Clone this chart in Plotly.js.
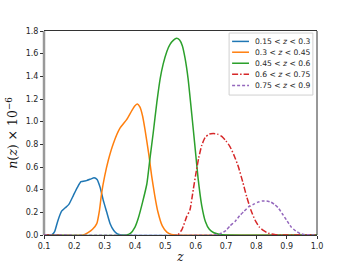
<!DOCTYPE html>
<html>
<head>
<meta charset="utf-8">
<script src="https://cdn.plot.ly/plotly-3.0.1.min.js"></script>
<style>html,body{margin:0;padding:0;background:#fff;}#chart{width:352px;height:264px;}</style>
</head>
<body>
<div id="chart"></div>
<script>
const seriesNames = ["0.15 < <i>z</i> < 0.3", "0.3 < <i>z</i> < 0.45", "0.45 < <i>z</i> < 0.6", "0.6 < <i>z</i> < 0.75", "0.75 < <i>z</i> < 0.9"];

const z1 = [0.1, 0.125, 0.135, 0.145, 0.158, 0.17, 0.182, 0.197, 0.21, 0.222, 0.24, 0.255, 0.265, 0.275, 0.285, 0.295, 0.307, 0.318, 0.33, 0.342, 0.355, 1.0];
const n1 = [0, 0, 0.03, 0.12, 0.21, 0.24, 0.27, 0.35, 0.42, 0.47, 0.48, 0.495, 0.505, 0.49, 0.42, 0.31, 0.2, 0.1, 0.04, 0.01, 0, 0];

const z2 = [0.1, 0.23, 0.245, 0.26, 0.274, 0.283, 0.29, 0.3, 0.312, 0.329, 0.35, 0.373, 0.39, 0.4, 0.408, 0.416, 0.425, 0.433, 0.445, 0.455, 0.465, 0.475, 0.49, 0.505, 0.52, 0.535, 1.0];
const n2 = [0, 0, 0.02, 0.05, 0.1, 0.22, 0.37, 0.52, 0.66, 0.81, 0.94, 1.02, 1.1, 1.14, 1.155, 1.13, 1.05, 0.93, 0.72, 0.52, 0.35, 0.21, 0.08, 0.025, 0.005, 0, 0];

const z3 = [0.1, 0.37, 0.385, 0.4, 0.411, 0.425, 0.439, 0.45, 0.46, 0.472, 0.483, 0.493, 0.505, 0.515, 0.527, 0.537, 0.547, 0.556, 0.565, 0.575, 0.587, 0.597, 0.608, 0.62, 0.632, 0.645, 0.66, 0.68, 0.7, 1.0];
const n3 = [0, 0, 0.015, 0.07, 0.15, 0.29, 0.45, 0.69, 0.9, 1.17, 1.38, 1.51, 1.62, 1.68, 1.72, 1.735, 1.72, 1.67, 1.56, 1.38, 1.07, 0.8, 0.5, 0.26, 0.12, 0.05, 0.02, 0.005, 0, 0];

const z4 = [0.1, 0.54, 0.555, 0.57, 0.581, 0.592, 0.6, 0.61, 0.62, 0.631, 0.645, 0.658, 0.672, 0.686, 0.7, 0.713, 0.727, 0.741, 0.755, 0.768, 0.782, 0.796, 0.81, 0.823, 0.84, 0.86, 0.88, 1.0];
const n4 = [0, 0, 0.05, 0.16, 0.22, 0.4, 0.53, 0.68, 0.79, 0.86, 0.89, 0.895, 0.89, 0.87, 0.83, 0.78, 0.7, 0.6, 0.47, 0.34, 0.22, 0.13, 0.07, 0.04, 0.015, 0.005, 0, 0];

const z5 = [0.1, 0.66, 0.68, 0.7, 0.713, 0.73, 0.745, 0.76, 0.775, 0.79, 0.805, 0.82, 0.834, 0.848, 0.86, 0.872, 0.885, 0.9, 0.915, 0.93, 0.945, 0.96, 0.98, 1.0];
const n5 = [0, 0, 0.01, 0.04, 0.08, 0.12, 0.17, 0.21, 0.25, 0.27, 0.29, 0.30, 0.30, 0.29, 0.27, 0.24, 0.19, 0.13, 0.07, 0.035, 0.012, 0.003, 0, 0];

const xTicks = [0.1, 0.2, 0.3, 0.4, 0.5, 0.6, 0.7, 0.8, 0.9, 1.0];
const yTicks = [0.0, 0.2, 0.4, 0.6, 0.8, 1.0, 1.2, 1.4, 1.6, 1.8];

const colors = ["#1f77b4", "#ff7f0e", "#2ca02c", "#d62728", "#9467bd"];
const dashes = ["solid", "solid", "solid", "6px,2px,1.5px,2px", "3px,2px"];
const zs = [z1, z2, z3, z4, z5];
const ns = [n1, n2, n3, n4, n5];

const traces = zs.map((z, i) => ({
  x: z, y: ns[i], type: "scatter", mode: "lines", name: seriesNames[i],
  line: {color: colors[i], width: 1.5, dash: dashes[i], shape: "spline", smoothing: 0.5}
}));

// compact legend (matplotlib-like), placed in paper coordinates
const legRows = [0.949, 0.896, 0.842, 0.788, 0.733];
const shapes = [
  {type: "line", xref: "paper", yref: "paper", x0: 0, x1: 0, y0: 0, y1: 1, line: {color: "#999", width: 2.5}, layer: "below"},
  {type: "line", xref: "paper", yref: "paper", x0: 1, x1: 1, y0: 0, y1: 1, line: {color: "#333", width: 1}},
  {type: "rect", xref: "paper", yref: "paper", x0: 0.678, x1: 0.985, y0: 0.686, y1: 0.99,
   line: {color: "#d0d0d0", width: 1}, fillcolor: "rgba(255,255,255,0.9)"}
];
const annotations = [];
seriesNames.forEach((name, i) => {
  shapes.push({type: "line", xref: "paper", yref: "paper", x0: 0.689, x1: 0.751, y0: legRows[i], y1: legRows[i],
    line: {color: colors[i], width: 1.5, dash: dashes[i]}});
  annotations.push({xref: "paper", yref: "paper", x: 0.766, y: legRows[i], xanchor: "left", yanchor: "middle",
    text: name, showarrow: false, font: {family: "DejaVu Sans", size: 7.6, color: "#262626"}});
});

const layout = {
  width: 352, height: 264,
  margin: {l: 44, r: 35, t: 31, b: 29},
  paper_bgcolor: "#fff", plot_bgcolor: "#fff",
  font: {family: "DejaVu Sans", size: 8, color: "#262626"},
  showlegend: false,
  xaxis: {range: [0.1, 1.0], tickvals: xTicks, ticktext: xTicks.map(v => v.toFixed(1)),
    showgrid: false, zeroline: false, showline: true, linecolor: "#333", linewidth: 1, mirror: true,
    ticks: "outside", ticklen: 3, tickcolor: "#333", tickfont: {size: 8},
    title: {text: "<i>z</i>", font: {family: "DejaVu Serif", size: 12, color: "#111"}, standoff: 4}},
  yaxis: {range: [0, 1.8], tickvals: yTicks, ticktext: yTicks.map(v => v.toFixed(1)),
    showgrid: false, zeroline: false, showline: false,
    ticks: "outside", ticklen: 3, tickcolor: "#333", tickfont: {size: 8},
    title: {text: "<i>n</i>(<i>z</i>) × 10<sup>−6</sup>", font: {family: "DejaVu Serif", size: 12.5, color: "#111"}, standoff: 5}},
  shapes: shapes,
  annotations: annotations
};

Plotly.newPlot("chart", traces, layout, {displayModeBar: false, staticPlot: true});
</script>
</body>
</html>
